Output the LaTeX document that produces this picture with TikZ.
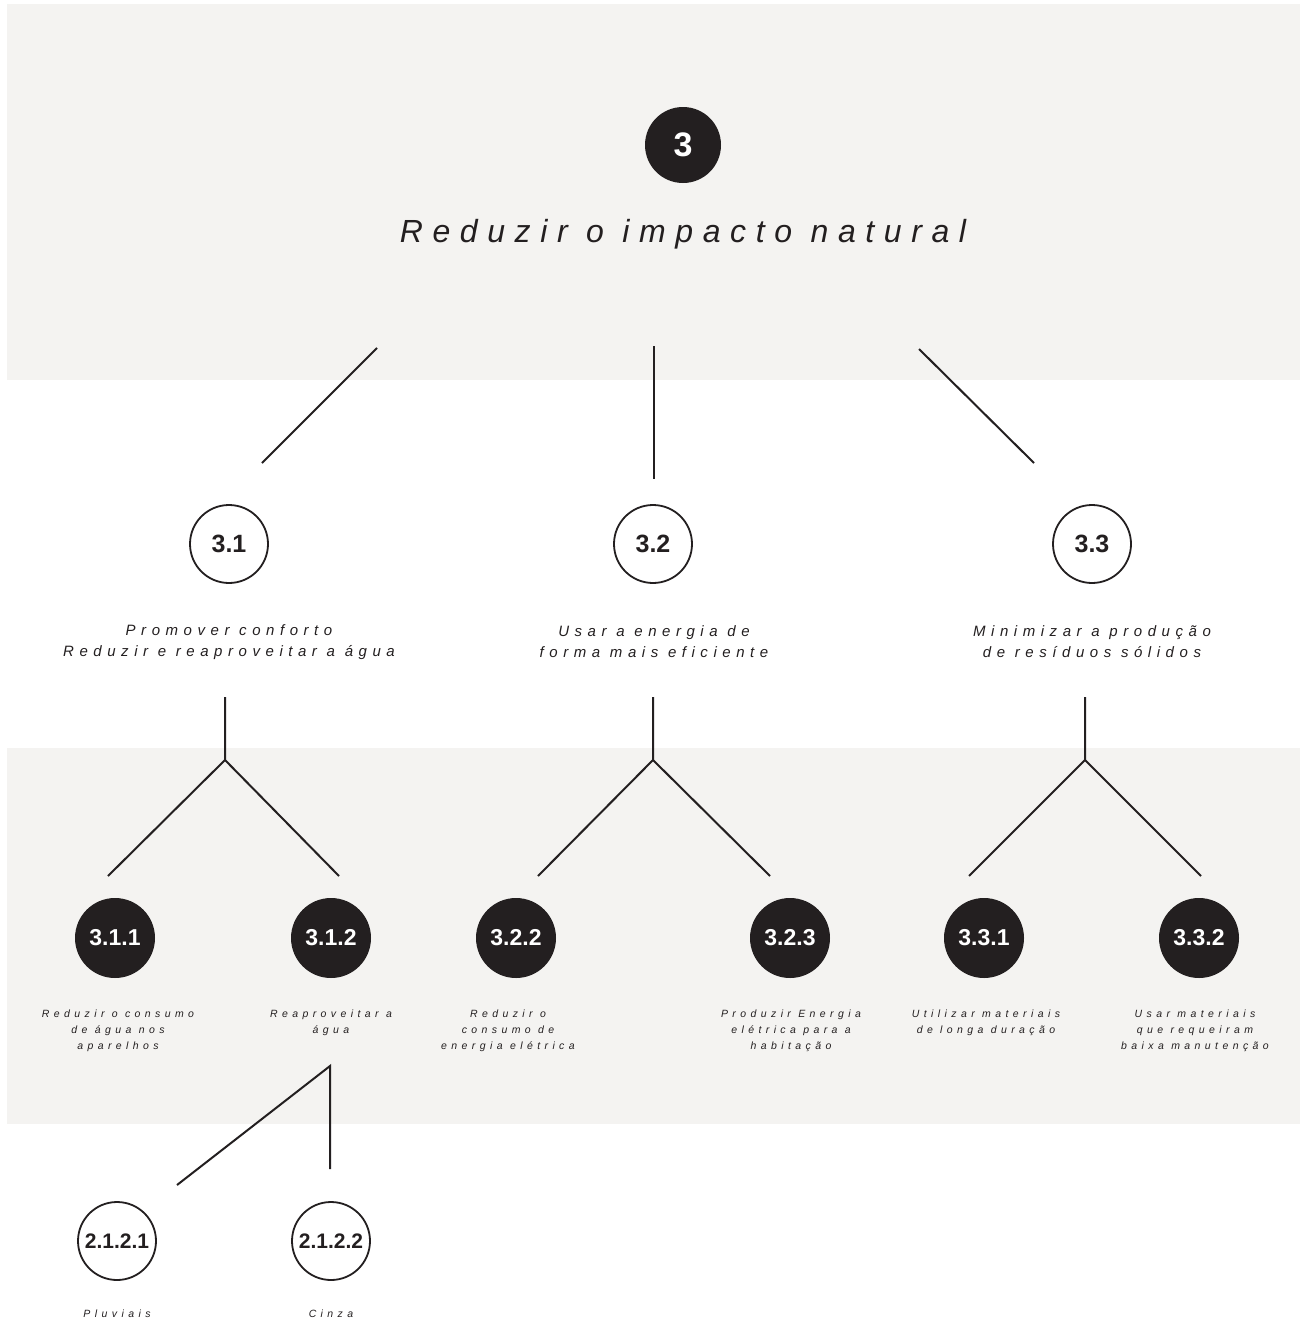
\documentclass[tikz,border=0pt]{standalone}
\usepackage{fontspec}
\setmainfont{Liberation Sans}
\newfontfamily\titlefont[LetterSpace=30]{Liberation Sans}
\newfontfamily\midfont[LetterSpace=37]{Liberation Sans}
\newfontfamily\smallfont[LetterSpace=42]{Liberation Sans}
\definecolor{panel}{HTML}{F4F3F1}
\definecolor{ink}{HTML}{231F20}
\begin{document}
\begin{tikzpicture}[x=1pt,y=-1pt,
  blackdot/.style={circle, fill=ink, text=white, minimum size=80pt, inner sep=0pt,
    font=\bfseries\fontsize{23}{23}\selectfont},
  whitedot/.style={circle, draw=ink, line width=1.8pt, fill=white, minimum size=78pt, inner sep=0pt,
    text=ink, font=\bfseries\fontsize{25}{25}\selectfont},
  smalldot/.style={whitedot, font=\bfseries\fontsize{21}{21}\selectfont},
  link/.style={draw=ink, line width=2pt},
  midlabel/.style={align=center, inner sep=0pt, text=ink, font=\midfont\itshape\fontsize{15}{21}\selectfont},
  smalllabel/.style={align=center, inner sep=0pt, text=ink, font=\smallfont\itshape\fontsize{10.5}{16}\selectfont},
  titlelabel/.style={inner sep=0pt, text=ink, font=\titlefont\itshape\fontsize{32}{32}\selectfont}
]
\useasboundingbox (0,0) rectangle (1303,1322);
\fill[white] (0,0) rectangle (1303,1322);
% panels
\fill[panel] (7,4) rectangle (1300,380);
\fill[panel] (7,748) rectangle (1300,1124);

% root
\node[blackdot, minimum size=76pt, font=\bfseries\fontsize{34}{34}\selectfont] (n3) at (683,145) {3};
\node[titlelabel] (t3) at (683,234) {Reduzir o impacto natural};

% level 1 connectors
\coordinate (a1) at (377,348); \coordinate (b1) at (262,463);
\coordinate (a2) at (654,346); \coordinate (b2) at (654,479);
\coordinate (a3) at (919,349); \coordinate (b3) at (1034,463);
\draw[link] (a1) -- (b1);
\draw[link] (a2) -- (b2);
\draw[link] (a3) -- (b3);

% level 2
\node[whitedot] (n31) at (229,544) {3.1};
\node[whitedot] (n32) at (653,544) {3.2};
\node[whitedot] (n33) at (1092,544) {3.3};
\node[midlabel] (t31) at (229,642) {Promover conforto\\Reduzir e reaproveitar a água};
\node[midlabel] (t32) at (654,642) {Usar a energia de\\forma mais eficiente};
\node[midlabel] (t33) at (1092,642) {Minimizar a produção\\de resíduos sólidos};

% forks
\coordinate (f1t) at (225,697); \coordinate (f1) at (225,760);
\coordinate (f1l) at (108,876); \coordinate (f1r) at (339,876);
\coordinate (f2t) at (653,697); \coordinate (f2) at (653,760);
\coordinate (f2l) at (538,876); \coordinate (f2r) at (770,876);
\coordinate (f3t) at (1085,697); \coordinate (f3) at (1085,760);
\coordinate (f3l) at (969,876); \coordinate (f3r) at (1201,876);
\draw[link] (f1t) -- (f1) (f1l) -- (f1) -- (f1r);
\draw[link] (f2t) -- (f2) (f2l) -- (f2) -- (f2r);
\draw[link] (f3t) -- (f3) (f3l) -- (f3) -- (f3r);

% level 3
\node[blackdot] (n311) at (115,938) {3.1.1};
\node[blackdot] (n312) at (331,938) {3.1.2};
\node[blackdot] (n322) at (516,938) {3.2.2};
\node[blackdot] (n323) at (790,938) {3.2.3};
\node[blackdot] (n331) at (984,938) {3.3.1};
\node[blackdot] (n332) at (1199,938) {3.3.2};

\node[smalllabel] (t311) at (118,1031) {Reduzir o consumo\\de água nos\\aparelhos};
\node[smalllabel] (t312) at (331,1023) {Reaproveitar a\\água};
\node[smalllabel] (t322) at (508,1031) {Reduzir o\\consumo de\\energia elétrica};
\node[smalllabel] (t323) at (791,1031) {Produzir Energia\\elétrica para a\\habitação};
\node[smalllabel] (t331) at (986,1023) {Utilizar materiais\\de longa duração};
\node[smalllabel] (t332) at (1195,1031) {Usar materiais\\que requeiram\\baixa manutenção};

% sub fork
\coordinate (s1) at (330,1066); \coordinate (s1v) at (330,1169); \coordinate (s1d) at (177,1185);
\draw[link] (s1d) -- (s1) -- (s1v);

% level 4
\node[smalldot] (n2121) at (117,1241) {2.1.2.1};
\node[smalldot] (n2122) at (331,1241) {2.1.2.2};
\node[smalllabel] (t2121) at (117,1314) {Pluviais};
\node[smalllabel] (t2122) at (331,1314) {Cinza};
\end{tikzpicture}
\end{document}
